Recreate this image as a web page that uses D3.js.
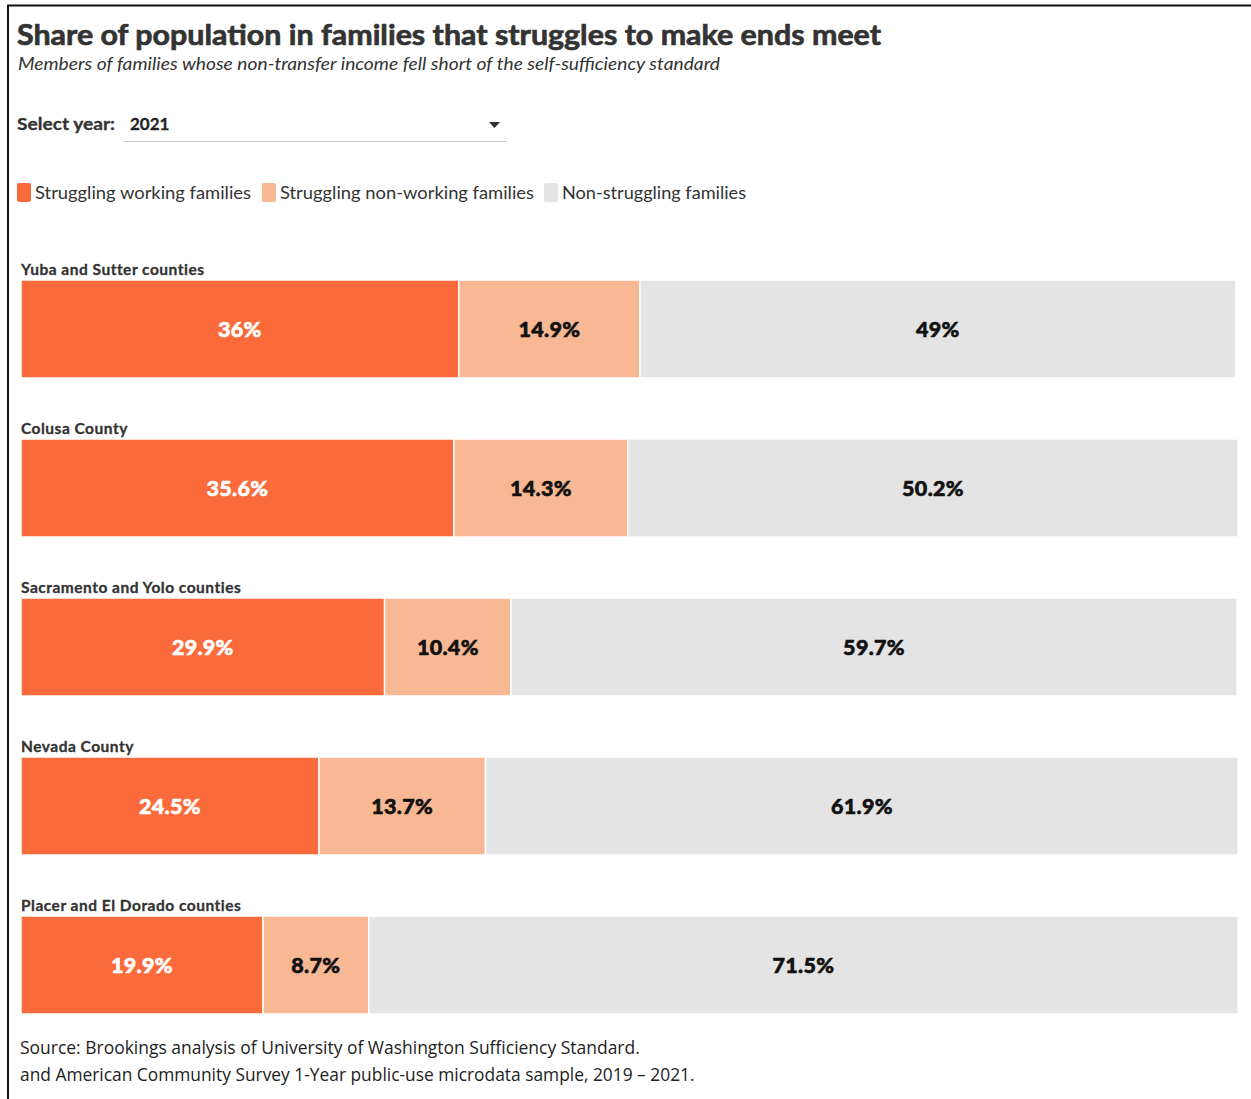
<!DOCTYPE html>
<html>
<head>
<meta charset="utf-8">
<script src="https://cdn.jsdelivr.net/npm/d3@7"></script>
<style>
  html, body { margin: 0; padding: 0; background: #fff; }
  svg { display: block; }
</style>
</head>
<body>
<svg id="chart" width="1251" height="1099"></svg>
<script>
// Regions shown, top to bottom
const regions = [
  "Yuba and Sutter counties",
  "Colusa County",
  "Sacramento and Yolo counties",
  "Nevada County",
  "Placer and El Dorado counties"
];
// Shares (%) for 2021
const working    = [36, 35.6, 29.9, 24.5, 19.9];
const nonWorking = [14.9, 14.3, 10.4, 13.7, 8.7];
const nonStruggling = [49, 50.2, 59.7, 61.9, 71.5];

const seriesNames = [
  "Struggling working families",
  "Struggling non-working families",
  "Non-struggling families"
];
const seriesColors = ["#fb6a3a", "#f8b894", "#e4e4e4"];
const labelColors  = ["#ffffff", "#111111", "#111111"];

const svg = d3.select("#chart");
const condensed = "Lato, 'Source Sans Pro', 'Noto Sans', sans-serif";

// Fit a text element to a given width by adjusting its font size
function fitWidth(sel, width) {
  const node = sel.node();
  const fs = parseFloat(sel.attr("font-size"));
  const w = node.getComputedTextLength();
  if (w > 0) sel.attr("font-size", fs * width / w);
  return sel;
}

// Frame lines
svg.append("line").attr("x1", 7).attr("x2", 1251).attr("y1", 5.5).attr("y2", 5.5)
  .attr("stroke", "#111").attr("stroke-width", 2);
svg.append("line").attr("x1", 8).attr("x2", 8).attr("y1", 5).attr("y2", 1099)
  .attr("stroke", "#111").attr("stroke-width", 2);

// Title block
svg.append("text").attr("x", 17).attr("y", 45)
  .attr("font-family", condensed).attr("font-weight", 700).attr("font-size", 29)
  .attr("fill", "#333").attr("stroke", "#333").attr("stroke-width", 0.7)
  .attr("textLength", 864).attr("lengthAdjust", "spacingAndGlyphs")
  .text("Share of population in families that struggles to make ends meet");
svg.append("text").attr("x", 18).attr("y", 70)
  .attr("font-family", condensed).attr("font-style", "italic").attr("font-size", 17.5)
  .attr("fill", "#333").attr("textLength", 702).attr("lengthAdjust", "spacingAndGlyphs")
  .text("Members of families whose non-transfer income fell short of the self-sufficiency standard");

// Year selector
svg.append("text").attr("x", 17).attr("y", 130)
  .attr("font-family", condensed).attr("font-weight", 700).attr("font-size", 17)
  .attr("fill", "#333").attr("stroke", "#333").attr("stroke-width", 0.3)
  .attr("textLength", 98).attr("lengthAdjust", "spacingAndGlyphs")
  .text("Select year:");
svg.append("text").attr("x", 130).attr("y", 130)
  .attr("font-family", condensed).attr("font-weight", 700).attr("font-size", 17)
  .attr("fill", "#222").attr("stroke", "#222").attr("stroke-width", 0.3)
  .text("2021");
svg.append("line").attr("x1", 124).attr("x2", 507).attr("y1", 141.5).attr("y2", 141.5)
  .attr("stroke", "#c8c8c8").attr("stroke-width", 1.2);
svg.append("path").attr("d", "M489,122 L500,122 L494.5,128 Z").attr("fill", "#333");

// Legend
const legendX = [17, 262, 544];
const legendW = [216, 254, 184];
const legend = svg.append("g").attr("transform", "translate(0,183)");
seriesNames.forEach((name, i) => {
  const g = legend.append("g").attr("transform", `translate(${legendX[i]},0)`);
  g.append("rect").attr("width", 14).attr("height", 19).attr("rx", 2)
    .attr("fill", seriesColors[i]);
  g.append("text").attr("x", 18).attr("y", 16)
    .attr("font-family", condensed).attr("font-size", 18).attr("fill", "#333")
    .attr("textLength", legendW[i]).attr("lengthAdjust", "spacingAndGlyphs")
    .text(name);
});

// Bars
const x = d3.scaleLinear().domain([0, 100]).range([21, 1237]);
const rowStep = 159;
const barTop = 280, barH = 98;

const rows = regions.map((r, i) => ({
  region: r,
  values: [working[i], nonWorking[i], nonStruggling[i]]
}));

const fmt = v => v + "%";

const rowG = svg.selectAll("g.row").data(rows).join("g")
  .attr("class", "row")
  .attr("transform", (d, i) => `translate(0,${barTop + i * rowStep})`);

rowG.append("text").attr("x", 21).attr("y", -5)
  .attr("font-family", condensed).attr("font-weight", 700).attr("font-size", 15.5)
  .attr("letter-spacing", 0.5)
  .attr("fill", "#333").attr("stroke", "#333").attr("stroke-width", 0.3)
  .text(d => d.region);

rowG.each(function(d) {
  const g = d3.select(this);
  let acc = 0;
  const segs = d.values.map((v, k) => {
    const s = { k, v, x0: acc, x1: acc + v };
    acc += v;
    return s;
  });
  g.selectAll("rect.seg").data(segs).join("rect")
    .attr("class", "seg")
    .attr("x", s => x(s.x0))
    .attr("y", 0)
    .attr("width", s => Math.max(0, x(s.x1) - x(s.x0)))
    .attr("height", barH)
    .attr("fill", s => seriesColors[s.k])
    .attr("stroke", "#fff").attr("stroke-width", 1.5);
  g.selectAll("text.val").data(segs).join("text")
    .attr("class", "val")
    .attr("x", s => (x(s.x0) + x(s.x1)) / 2)
    .attr("y", barH / 2 + 7.5)
    .attr("text-anchor", "middle")
    .attr("font-family", condensed).attr("font-weight", 900).attr("font-size", 21.5)
    .attr("letter-spacing", 0.3)
    .attr("fill", s => labelColors[s.k])
    .attr("stroke", s => labelColors[s.k]).attr("stroke-width", 0.6)
    .text(s => fmt(s.v));
});

// Source note
const src = svg.append("g").attr("font-family", "'Open Sans', 'Noto Sans', sans-serif")
  .attr("fill", "#222");
fitWidth(src.append("text").attr("x", 20).attr("y", 1054).attr("font-size", 16.5)
  .text("Source: Brookings analysis of University of Washington Sufficiency Standard."), 620);
fitWidth(src.append("text").attr("x", 20).attr("y", 1081).attr("font-size", 16.5)
  .text("and American Community Survey 1-Year public-use microdata sample, 2019 \u2013 2021."), 675);
</script>
</body>
</html>
